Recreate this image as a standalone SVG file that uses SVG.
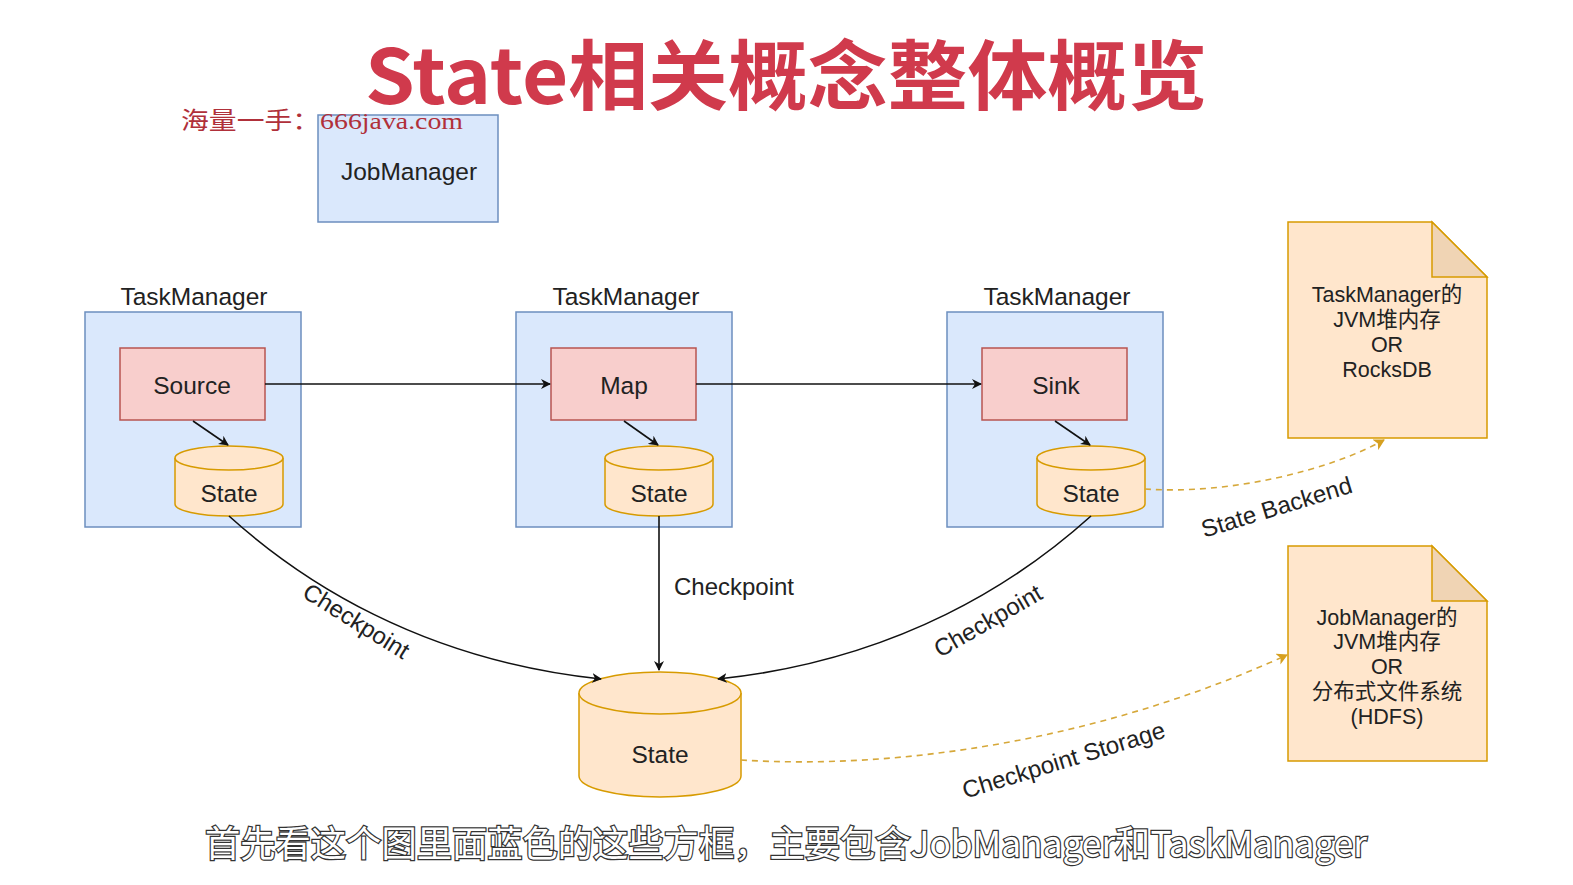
<svg xmlns="http://www.w3.org/2000/svg" width="1573" height="885" viewBox="0 0 1573 885">
<style>
.t{font-family:"Liberation Sans","Noto Sans CJK SC",sans-serif;fill:#222;text-anchor:middle}
.blue{fill:#dae8fc;stroke:#6c8ebf;stroke-width:1.5}
.red{fill:#f8cecc;stroke:#b85450;stroke-width:1.5}
.org{fill:#ffe6cc;stroke:#d79b00;stroke-width:1.5}
.ln{fill:none;stroke:#111;stroke-width:1.6}
.dl{fill:none;stroke:#d6a83a;stroke-width:1.6;stroke-dasharray:6,5}
</style>
<defs>
<marker id="ah" markerWidth="10" markerHeight="10" refX="9" refY="5" orient="auto" markerUnits="userSpaceOnUse"><path d="M0,0 L10,5 L0,10 L3,5 Z" fill="#111"/></marker>
<marker id="ahy" markerWidth="12" markerHeight="12" refX="10" refY="6" orient="auto" markerUnits="userSpaceOnUse"><path d="M0,0 L11,6 L0,12 L3,6 Z" fill="#d6a020"/></marker>
</defs>
<rect width="1573" height="885" fill="#fff"/>
<text x="786" y="104" font-family="Noto Sans CJK SC,sans-serif" font-weight="bold" font-size="76" fill="#d03a4c" text-anchor="middle" textLength="842" lengthAdjust="spacingAndGlyphs">State相关概念整体概览</text>
<g id="jobmanager"><rect class="blue" x="318" y="115" width="180" height="107"/><text class="t" x="409" y="180" font-size="24.5">JobManager</text></g>
<text x="181" y="129" font-family="Liberation Serif,Noto Sans CJK SC,serif" font-size="24" fill="#b0303a" textLength="282" lengthAdjust="spacingAndGlyphs">海量一手：666java.com</text>
<g id="tm1"><text class="t" x="194" y="305" font-size="24.5">TaskManager</text><rect class="blue" x="85" y="312" width="216" height="215"/></g>
<g id="tm2"><text class="t" x="626" y="305" font-size="24.5">TaskManager</text><rect class="blue" x="516" y="312" width="216" height="215"/></g>
<g id="tm3"><text class="t" x="1057" y="305" font-size="24.5">TaskManager</text><rect class="blue" x="947" y="312" width="216" height="215"/></g>
<g id="source"><rect class="red" x="120" y="348" width="145" height="72"/><text class="t" x="192" y="394" font-size="24.5">Source</text></g>
<g id="map"><rect class="red" x="551" y="348" width="145" height="72"/><text class="t" x="624" y="394" font-size="24.5">Map</text></g>
<g id="sink"><rect class="red" x="982" y="348" width="145" height="72"/><text class="t" x="1056" y="394" font-size="24.5">Sink</text></g>
<g id="state1"><path class="org" d="M175,458 A54,12 0 0 1 283,458 V504 A54,12 0 0 1 175,504 Z"/><path class="org" d="M175,458 A54,12 0 0 0 283,458" fill="none"/><text class="t" x="229" y="502" font-size="24.5">State</text></g>
<g id="state2"><path class="org" d="M605,458 A54,12 0 0 1 713,458 V504 A54,12 0 0 1 605,504 Z"/><path class="org" d="M605,458 A54,12 0 0 0 713,458" fill="none"/><text class="t" x="659" y="502" font-size="24.5">State</text></g>
<g id="state3"><path class="org" d="M1037,458 A54,12 0 0 1 1145,458 V504 A54,12 0 0 1 1037,504 Z"/><path class="org" d="M1037,458 A54,12 0 0 0 1145,458" fill="none"/><text class="t" x="1091" y="502" font-size="24.5">State</text></g>
<g id="statebig"><path class="org" d="M579,693 A81,21 0 0 1 741,693 V776 A81,21 0 0 1 579,776 Z"/><path class="org" d="M579,693 A81,21 0 0 0 741,693" fill="none"/><text class="t" x="660" y="763" font-size="24.5">State</text></g>
<g id="note1"><path class="org" d="M1288,222 H1432 L1487,277 V438 H1288 Z"/><path d="M1432,222 V277 H1487 Z" fill="#f0d4b4" stroke="#d79b00" stroke-width="1.5"/>
<text class="t" font-size="21.5" x="1387"><tspan x="1387" y="302">TaskManager的</tspan><tspan x="1387" y="327">JVM堆内存</tspan><tspan x="1387" y="352">OR</tspan><tspan x="1387" y="377">RocksDB</tspan></text></g>
<g id="note2"><path class="org" d="M1288,546 H1432 L1487,601 V761 H1288 Z"/><path d="M1432,546 V601 H1487 Z" fill="#f0d4b4" stroke="#d79b00" stroke-width="1.5"/>
<text class="t" font-size="21.5" x="1387"><tspan x="1387" y="625">JobManager的</tspan><tspan x="1387" y="649">JVM堆内存</tspan><tspan x="1387" y="674">OR</tspan><tspan x="1387" y="699">分布式文件系统</tspan><tspan x="1387" y="724">(HDFS)</tspan></text></g>
<g id="connectors">
<line class="ln" x1="265" y1="384" x2="550" y2="384" marker-end="url(#ah)"/>
<line class="ln" x1="696" y1="384" x2="981" y2="384" marker-end="url(#ah)"/>
<line class="ln" x1="193" y1="421" x2="228" y2="445" marker-end="url(#ah)"/>
<line class="ln" x1="624" y1="421" x2="658" y2="445" marker-end="url(#ah)"/>
<line class="ln" x1="1055" y1="421" x2="1090" y2="445" marker-end="url(#ah)"/>
<path class="ln" d="M229,516 C300,580 420,660 601,679" marker-end="url(#ah)"/>
<line class="ln" x1="659" y1="516" x2="659" y2="670" marker-end="url(#ah)"/>
<path class="ln" d="M1091,516 C1020,580 900,660 718,679" marker-end="url(#ah)"/>
<path class="dl" d="M1145,489 C1230,495 1330,470 1384,440" marker-end="url(#ahy)"/>
<path class="dl" d="M741,760 C900,770 1100,740 1287,655" marker-end="url(#ahy)"/>
<text class="t" font-size="24" transform="translate(352,628) rotate(32)">Checkpoint</text>
<text class="t" font-size="24" x="734" y="595">Checkpoint</text>
<text class="t" font-size="24" transform="translate(992,628) rotate(-30)">Checkpoint</text>
<text class="t" font-size="24" transform="translate(1279,515) rotate(-17)">State Backend</text>
<text class="t" font-size="24" transform="translate(1066,768) rotate(-17)">Checkpoint Storage</text>
</g>
<text x="786" y="857" font-family="Noto Sans CJK SC,sans-serif" font-size="36" fill="#fff" stroke="#333" stroke-width="2.5" paint-order="stroke" text-anchor="middle" textLength="1162" lengthAdjust="spacingAndGlyphs">首先看这个图里面蓝色的这些方框，主要包含JobManager和TaskManager</text>
</svg>
